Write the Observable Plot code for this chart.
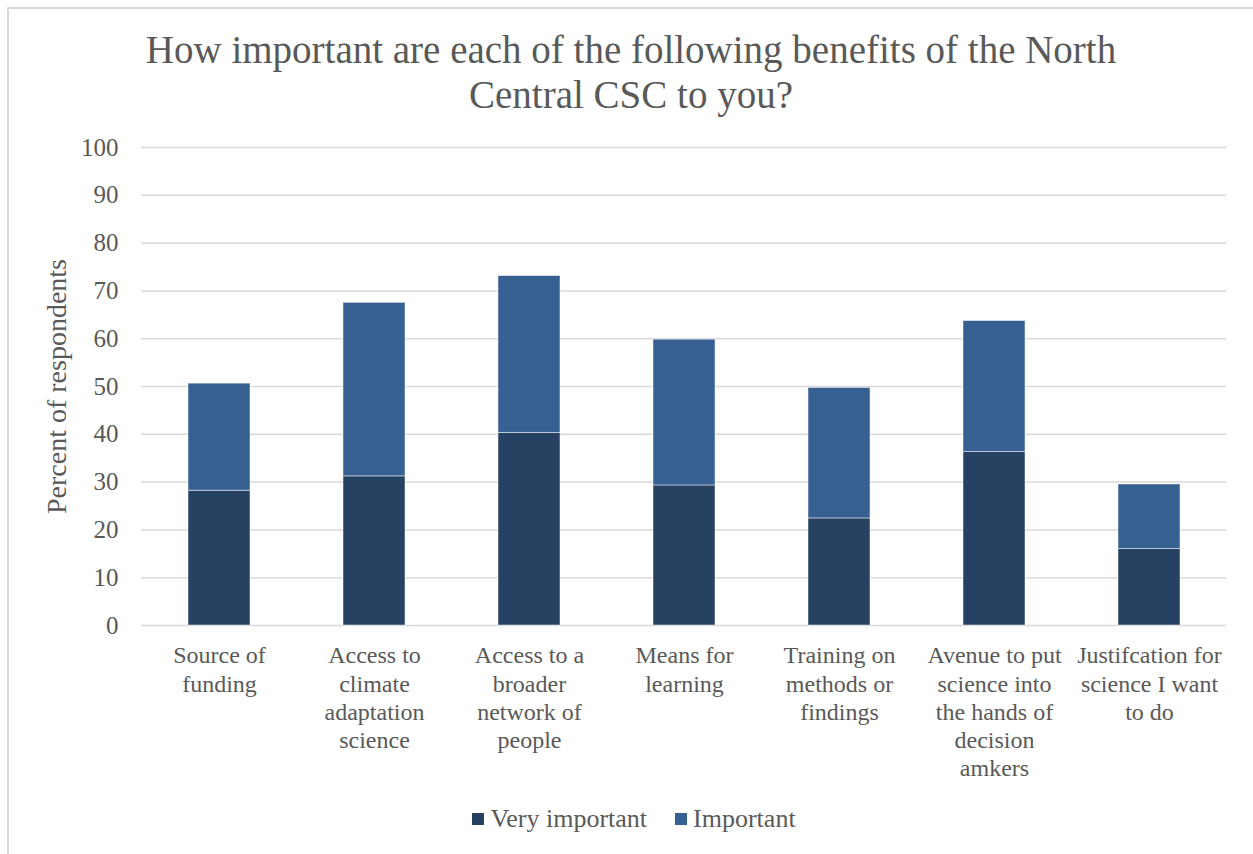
<!DOCTYPE html>
<html>
<head>
<meta charset="utf-8">
<script src="https://cdn.jsdelivr.net/npm/d3@7"></script>
<script src="https://cdn.jsdelivr.net/npm/@observablehq/plot@0.6"></script>
<style>
  body { margin: 0; background: #fff; font-family: "Liberation Serif", serif; }
  #frame { position: absolute; left: 7px; top: 7px; width: 1248px; height: 860px; border: 2px solid #d9d9d9; box-sizing: border-box; }
  #title { position: absolute; left: 7px; width: 1248px; top: 27px; text-align: center; font-size: 39px; line-height: 45px; color: #595959; }
  #chart { position: absolute; left: 0; top: 130px; }
  #legend { position: absolute; left: 0; width: 1268px; top: 804px; text-align: center; font-size: 26px; color: #595959; }
  .sw { display: inline-block; width: 12px; height: 12px; margin-right: 6px; vertical-align: 2px; }
  .item { display: inline-block; margin: 0 14px; }
</style>
</head>
<body>
<div id="frame"></div>
<div id="title">How important are each of the following benefits of the North<br>Central CSC to you?</div>
<div id="chart"></div>
<div id="legend"></div>
<script>
const categories = [
  "Source of funding",
  "Access to climate adaptation science",
  "Access to a broader network of people",
  "Means for learning",
  "Training on methods or findings",
  "Avenue to put science into the hands of decision amkers",
  "Justifcation for science I want to do"
];
const tickLabels = [
  "Source of\nfunding",
  "Access to\nclimate\nadaptation\nscience",
  "Access to a\nbroader\nnetwork of\npeople",
  "Means for\nlearning",
  "Training on\nmethods or\nfindings",
  "Avenue to put\nscience into\nthe hands of\ndecision\namkers",
  "Justifcation for\nscience I want\nto do"
];
const seriesNames = ["Very important", "Important"];
const veryImportant = [28.2, 31.2, 40.3, 29.3, 22.4, 36.3, 16.0];
const important = [22.4, 36.3, 32.8, 30.5, 27.3, 27.4, 13.5];
const colors = ["#264161", "#376092"];
const yTicks = [0, 10, 20, 30, 40, 50, 60, 70, 80, 90, 100];

const rows = [];
categories.forEach((c, i) => {
  rows.push({cat: c, series: seriesNames[0], value: veryImportant[i]});
  rows.push({cat: c, series: seriesNames[1], value: important[i]});
});
const labelOf = new Map(categories.map((c, i) => [c, tickLabels[i]]));

const chart = Plot.plot({
  width: 1253,
  height: 660,
  marginTop: 17,
  marginBottom: 165,
  marginLeft: 141,
  marginRight: 27,
  style: {fontFamily: "Liberation Serif, serif", color: "#595959", background: "transparent"},
  x: {domain: categories, paddingInner: 0.6, paddingOuter: 0.3, label: null},
  y: {domain: [0, 100], label: null},
  color: {domain: seriesNames, range: colors},
  marks: [
    Plot.gridY(yTicks, {stroke: "#d9d9d9", strokeOpacity: 1, strokeWidth: 1.5}),
    Plot.barY(rows, {x: "cat", y: "value", fill: "series", stroke: "#ffffff", strokeWidth: 0.8, strokeOpacity: 0.6}),
    Plot.axisY({ticks: yTicks, tickSize: 0, tickPadding: 23, fontSize: 25, label: "Percent of respondents", labelAnchor: "center", labelArrow: "none", labelOffset: 95}),
    Plot.axisX({tickSize: 0, tickPadding: 18, fontSize: 24, lineHeight: 1.17, tickFormat: d => labelOf.get(d), label: null})
  ]
});
document.getElementById("chart").appendChild(chart);
d3.select(chart).selectAll("[aria-label='y-axis label'] text").style("font-size", "28px");

const legend = document.getElementById("legend");
seriesNames.forEach((s, i) => {
  const span = document.createElement("span");
  span.className = "item";
  span.innerHTML = `<span class="sw" style="background:${colors[i]}"></span>${s}`;
  legend.appendChild(span);
});
</script>
</body>
</html>
